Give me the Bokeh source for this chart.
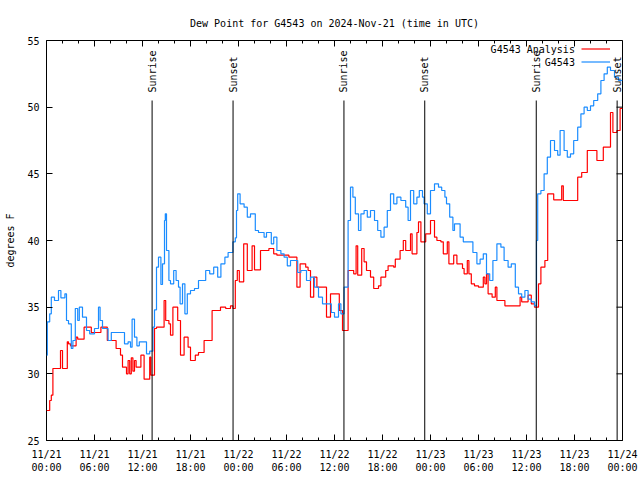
import pandas as pd
from math import pi
from bokeh.plotting import figure
from bokeh.models import (FixedTicker, DatetimeTickFormatter, Legend, LegendItem, Label,
                          Range1d, ColumnDataSource)
from bokeh.core.properties import value
from bokeh.embed import file_html
from bokeh.resources import INLINE

# ---------------- data ----------------
start_time = "2024-11-21 00:00"
title_text = "Dew Point for G4543 on 2024-Nov-21 (time in UTC)"

# G4543 observations (hours since start, dew point F)
blue_hours = [0.0, 0.1, 0.4, 0.6, 1.0, 1.5, 1.8, 2.3, 2.5, 2.75, 3.1, 3.3, 3.6, 3.9, 4.1, 4.5,
              5.0, 5.4, 6.0, 6.5, 6.7, 7.0, 7.7, 8.1, 9.75, 10.2, 10.5, 10.7, 11.0, 11.3, 11.6,
              12.5, 12.9, 13.3, 13.5, 13.75, 14.0, 14.3, 14.5, 14.75, 14.85, 15.0, 15.3, 15.5,
              15.9, 16.2, 16.5, 16.7, 17.0, 17.3, 17.6, 18.0, 18.5, 19.0, 19.9, 20.4, 20.9,
              21.4, 21.8, 22.3, 22.7, 23.3, 23.6, 23.75, 23.9, 24.2, 24.7, 25.1, 25.5, 26.1,
              26.5, 27.2, 27.5, 28.1, 28.4, 28.8, 29.3, 29.7, 30.1, 30.5, 31.4, 31.8, 32.5,
              33.0, 33.5, 34.0, 34.5, 35.6, 36.0, 36.5, 36.8, 37.2, 37.7, 38.0, 38.3, 38.6,
              39.0, 39.3, 39.7, 40.1, 40.5, 41.0, 41.4, 41.8, 42.2, 42.6, 43.0, 43.4, 43.8,
              44.3, 44.9, 45.2, 45.5, 45.9, 46.3, 46.6, 47.0, 47.2, 47.6, 48.0, 48.5, 49.0,
              49.4, 49.8, 50.0, 50.4, 50.8, 51.0, 51.7, 52.1, 53.3, 53.8, 54.2, 54.6, 55.0,
              55.4, 55.8, 56.3, 56.8, 57.2, 57.7, 58.1, 58.6, 59.0, 59.4, 59.8, 60.2, 60.6,
              61.0, 61.25, 61.4, 61.8, 62.2, 62.6, 63.0, 63.5, 63.9, 64.2, 64.7, 65.1, 65.5,
              65.9, 66.4, 66.8, 67.2, 67.6, 68.0, 68.4, 68.9, 69.3, 69.7, 70.1, 70.5, 71.0,
              71.5, 72.0]
blue_dewpt = [31.4, 33.9, 34.5, 35.75, 35.5, 36.25, 35.7, 36.0, 34.0, 33.75, 31.9, 32.5, 34.9, 34.0, 35.0, 34.25,
              33.25, 33.0, 33.4, 35.0, 34.0, 33.4, 32.5, 33.1, 32.25, 32.4, 32.0, 34.1, 32.75, 32.1, 32.4,
              31.5, 31.7, 33.5, 34.8, 38.0, 38.75, 36.7, 38.25, 41.5, 42.0, 39.25, 37.0, 36.75,
              37.75, 37.0, 36.5, 35.25, 36.75, 34.5, 36.0, 36.25, 36.4, 37.0, 37.75, 37.5, 38.0,
              37.25, 38.25, 38.75, 39.1, 39.9, 40.2, 42.25, 43.5, 42.75, 42.5, 41.75, 42.0, 40.75,
              40.6, 40.25, 40.6, 39.75, 40.25, 39.25, 39.0, 38.75, 38.1, 38.5, 37.6, 37.75, 37.0,
              37.25, 36.5, 35.75, 35.25, 34.6, 34.25, 35.25, 34.5, 36.5, 41.5, 44.0, 43.25, 42.0,
              40.75, 42.0, 42.25, 41.75, 42.25, 41.5, 40.75, 40.25, 41.0, 42.25, 43.5, 42.75, 43.25,
              43.0, 42.5, 41.5, 43.75, 42.75, 43.25, 43.75, 43.25, 42.75, 42.0, 43.75, 44.25, 44.0,
              43.75, 43.25, 42.75, 41.75, 40.75, 41.25, 40.25, 39.9, 39.1, 38.25, 38.6, 39.0, 37.5,
              37.0, 38.5, 39.75, 39.5, 38.5, 38.0, 38.25, 36.5, 36.0, 35.75, 36.25, 35.6, 35.4,
              35.1, 40.0, 43.5, 43.75, 45.0, 46.25, 47.5, 46.75, 46.4, 48.25, 46.75, 46.25, 46.5,
              47.5, 48.5, 49.5, 50.0, 49.75, 50.1, 50.5, 51.0, 52.0, 52.5, 53.0, 52.75, 52.25,
              52.0, 52.0]

# G4543 Analysis (hours since start, dew point F)
red_hours = [0.0, 0.4, 0.6, 0.8, 1.75, 2.0, 2.6, 2.75, 3.0, 3.7, 3.9, 4.7, 5.6, 6.8, 7.6, 8.7,
             9.25, 9.5, 10.0, 10.2, 10.4, 10.6, 10.8, 11.0, 11.2, 11.8, 12.2, 12.9, 13.05, 13.5,
             13.75, 14.7, 14.9, 15.3, 15.5, 15.8, 16.4, 16.75, 17.2, 17.7, 18.0, 18.6, 19.0,
             19.7, 20.7, 21.75, 22.4, 23.0, 23.3, 23.6, 23.85, 24.1, 24.65, 25.1, 25.7, 26.0,
             26.75, 27.8, 28.4, 28.8, 30.3, 31.3, 31.7, 32.4, 32.7, 33.0, 33.4, 33.8, 35.0,
             35.5, 36.6, 37.0, 37.7, 38.4, 38.7, 38.9, 39.4, 39.7, 40.0, 40.5, 40.9, 41.5,
             41.8, 42.4, 42.7, 43.4, 43.6, 44.2, 44.6, 44.9, 45.5, 45.7, 46.3, 46.5, 46.8,
             47.4, 48.0, 48.5, 48.8, 49.3, 49.6, 50.1, 50.3, 50.9, 51.3, 52.0, 52.2, 52.6,
             52.8, 53.1, 53.5, 54.0, 54.6, 54.8, 55.0, 55.2, 55.7, 56.1, 56.3, 57.3, 59.2,
             59.4, 60.2, 60.6, 61.0, 61.5, 61.8, 62.3, 62.65, 63.4, 64.4, 64.6, 66.4, 66.9,
             67.6, 68.8, 69.6, 70.5, 70.8, 71.3, 71.7, 72.0]
red_dewpt = [27.25, 28.0, 28.4, 30.4, 31.75, 30.4, 32.4, 32.25, 32.1, 32.75, 32.6, 33.5, 33.1, 33.5, 32.5, 31.9,
             31.4, 30.5, 30.0, 31.0, 30.0, 31.2, 30.2, 31.0, 30.5, 31.4, 29.6, 31.25, 29.9, 33.4,
             33.5, 35.5, 34.0, 33.75, 32.9, 35.0, 34.0, 31.4, 32.75, 32.0, 31.0, 31.4, 31.6,
             32.5, 34.75, 35.0, 34.9, 35.1, 34.9, 37.0, 37.75, 36.9, 39.75, 37.75, 39.6, 37.8,
             39.25, 39.4, 39.0, 38.9, 38.75, 36.5, 38.25, 38.0, 37.75, 35.75, 37.25, 36.5, 34.25,
             36.0, 34.75, 33.25, 37.75, 37.5, 39.6, 37.4, 39.4, 38.4, 37.75, 37.25, 36.4, 36.6,
             37.25, 37.75, 38.1, 38.0, 38.6, 39.25, 40.0, 39.25, 40.5, 39.0, 40.6, 41.4, 39.9,
             40.5, 41.5, 40.25, 40.0, 39.9, 39.0, 39.9, 38.25, 38.9, 38.25, 37.9, 37.5, 38.5,
             37.5, 36.75, 36.6, 36.5, 37.25, 36.75, 37.5, 36.0, 35.75, 36.5, 35.5, 35.1, 35.75,
             35.4, 35.9, 35.25, 35.0, 36.75, 38.0, 38.5, 43.5, 43.05, 44.1, 43.0, 44.75, 45.1,
             46.75, 46.0, 47.0, 49.6, 48.1, 48.25, 49.9, 49.9]

sun_hours = [13.2, 23.32, 37.18, 47.28, 61.22, 71.33]
sun_labels = ["Sunrise", "Sunset", "Sunrise", "Sunset", "Sunrise", "Sunset"]

series_names = ["G4543 Analysis", "G4543"]
y_ticks = [25, 30, 35, 40, 45, 50, 55]
x_major_step_h = 6
x_minor_step_h = 2
span_hours = 72
y_lo, y_hi = 25, 55

# ---------------- helpers ----------------
t0 = pd.Timestamp(start_time)

def to_time(hours):
    return [t0 + pd.Timedelta(hours=h) for h in hours]

def to_ms(h):
    return (t0 + pd.Timedelta(hours=h)).timestamp() * 1000.0

MONO = "DejaVu Sans Mono"
FS = "10px"
RED = "#ff0000"
BLUE = "#1a8cff"

FRAME_W, FRAME_H = 576, 400
PX_PER_H = FRAME_W / span_hours           # pixels per hour
PX_PER_DEG = FRAME_H / (y_hi - y_lo)      # pixels per degree

p = figure(width=640, height=480, x_axis_type="datetime", output_backend="svg",
           toolbar_location=None,
           x_range=Range1d(to_ms(0), to_ms(span_hours)), y_range=Range1d(y_lo, y_hi),
           min_border_left=46, min_border_right=18, min_border_top=40, min_border_bottom=40)

p.title.text = title_text
p.title.text_font = MONO
p.title.text_font_size = FS
p.title.text_font_style = "normal"
p.title.text_color = "black"
p.title.align = "center"
p.title.standoff = 23

p.grid.visible = False
p.outline_line_color = "black"
p.outline_line_width = 1
p.background_fill_color = "white"
p.border_fill_color = "white"

major_h = list(range(0, span_hours + 1, x_major_step_h))
minor_h = list(range(0, span_hours + 1, x_minor_step_h))
xticker = FixedTicker(ticks=[to_ms(h) for h in major_h], minor_ticks=[to_ms(h) for h in minor_h])
yticker = FixedTicker(ticks=y_ticks, minor_ticks=[])
fmt_str = "%m/%d\n%H:%M"
fmt = DatetimeTickFormatter(microseconds=fmt_str, milliseconds=fmt_str, seconds=fmt_str,
                            minsec=fmt_str, minutes=fmt_str, hourmin=fmt_str, hours=fmt_str,
                            days=fmt_str, months=fmt_str, years=fmt_str)

def style_axis(ax, minor_in=3):
    ax.axis_line_color = None
    ax.major_tick_in = 6
    ax.major_tick_out = 0
    ax.minor_tick_in = minor_in
    ax.minor_tick_out = 0
    ax.major_tick_line_color = "black"
    ax.minor_tick_line_color = "black"
    ax.major_label_text_font = MONO
    ax.major_label_text_font_size = FS
    ax.major_label_text_color = "black"

xa = p.xaxis[0]
xa.ticker = xticker
xa.formatter = fmt
style_axis(xa)
xa.major_label_standoff = 8

ya = p.yaxis[0]
ya.ticker = yticker
style_axis(ya, minor_in=0)
ya.major_label_standoff = 7
ya.axis_label = "degrees F"
ya.axis_label_text_font = MONO
ya.axis_label_text_font_size = FS
ya.axis_label_text_font_style = "normal"
ya.axis_label_text_color = "black"
ya.axis_label_standoff = 8

# mirrored inward ticks on the top and right borders (from the same tick lists)
top_major = ColumnDataSource(dict(x=to_time(major_h), y0=[y_hi] * len(major_h),
                                  y1=[y_hi - 6 / PX_PER_DEG] * len(major_h)))
top_minor = ColumnDataSource(dict(x=to_time(minor_h), y0=[y_hi] * len(minor_h),
                                  y1=[y_hi - 3 / PX_PER_DEG] * len(minor_h)))
right_major = ColumnDataSource(dict(y=y_ticks, x0=[to_ms(span_hours)] * len(y_ticks),
                                    x1=[to_ms(span_hours - 6 / PX_PER_H)] * len(y_ticks)))
for src in (top_major, top_minor):
    p.segment(x0="x", y0="y0", x1="x", y1="y1", source=src, line_color="black", line_width=1)
p.segment(x0="x0", y0="y", x1="x1", y1="y", source=right_major, line_color="black", line_width=1)

# series
r_red = p.step(x=to_time(red_hours), y=red_dewpt, mode="after", line_color=RED, line_width=1.2)
r_blue = p.step(x=to_time(blue_hours), y=blue_dewpt, mode="after", line_color=BLUE, line_width=1.2)

# sunrise / sunset markers
sun_src = ColumnDataSource(dict(x=to_time(sun_hours), label=sun_labels,
                                y0=[y_lo] * len(sun_hours), y1=[50.5] * len(sun_hours),
                                ty=[51.1] * len(sun_hours)))
p.segment(x0="x", y0="y0", x1="x", y1="y1", source=sun_src, line_color="black", line_width=1)
p.text(x="x", y="ty", text="label", source=sun_src, angle=pi / 2, text_align="left",
       text_baseline="middle", text_font=value(MONO), text_font_size=FS, text_color="black")

# legend: text to the left, line sample to the right (gnuplot style)
legend = Legend(items=[LegendItem(label=" ", renderers=[r_red]),
                       LegendItem(label=" ", renderers=[r_blue])],
                location=(535, 372), glyph_width=29, glyph_height=13, label_standoff=0,
                label_width=0, label_height=13, padding=0, spacing=0, margin=0,
                label_text_font=MONO, label_text_font_size=FS,
                border_line_color=None, background_fill_alpha=0)
p.add_layout(legend)
for name, yv in zip(series_names, [54.3, 53.33]):
    p.add_layout(Label(x=to_ms(66.05), y=yv, text=name, text_align="right",
                       text_baseline="middle", text_font=MONO, text_font_size=FS,
                       text_color="black"))

open("out.html", "w").write(file_html(p, INLINE))
